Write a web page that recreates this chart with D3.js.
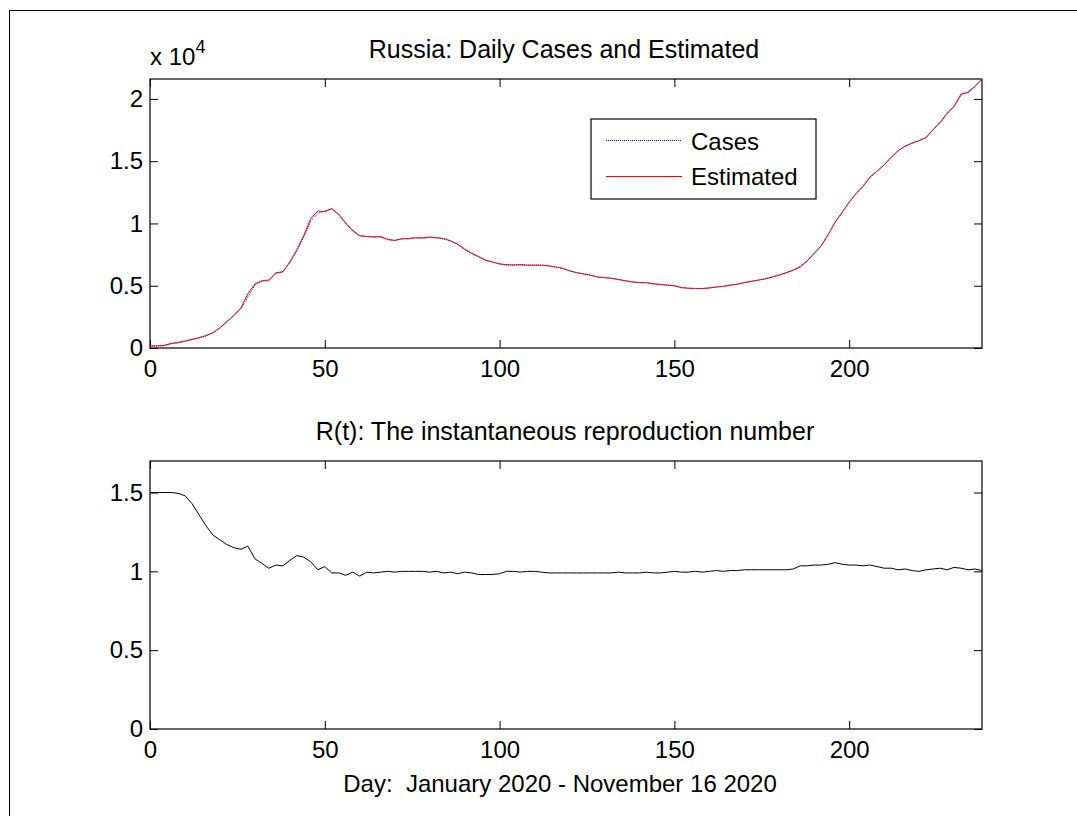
<!DOCTYPE html>
<html>
<head>
<meta charset="utf-8">
<script src="https://cdn.jsdelivr.net/npm/d3@7"></script>
<style>
    body { margin: 0; background: #fff; }
    text { font-family: Arial, "Liberation Sans", Helvetica, sans-serif; fill: #000; }
</style>
</head>
<body>
<div id="chart"></div>
<script>
// Day index (every 2nd day)
const days = [
    0, 2, 4, 6, 8, 10, 12, 14, 16, 18,
    20, 22, 24, 26, 28, 30, 32, 34, 36, 38,
    40, 42, 44, 46, 48, 50, 52, 54, 56, 58,
    60, 62, 64, 66, 68, 70, 72, 74, 76, 78,
    80, 82, 84, 86, 88, 90, 92, 94, 96, 98,
    100, 102, 104, 106, 108, 110, 112, 114, 116, 118,
    120, 122, 124, 126, 128, 130, 132, 134, 136, 138,
    140, 142, 144, 146, 148, 150, 152, 154, 156, 158,
    160, 162, 164, 166, 168, 170, 172, 174, 176, 178,
    180, 182, 184, 186, 188, 190, 192, 194, 196, 198,
    200, 202, 204, 206, 208, 210, 212, 214, 216, 218,
    220, 222, 224, 226, 228, 230, 232, 234, 236, 238
];

// Daily cases
const cases = [
    150, 160, 190, 330, 420, 520, 660, 800, 960, 1200,
    1600, 2100, 2600, 3150, 4100, 5050, 5350, 5500, 5950, 6150,
    6850, 7800, 8900, 10200, 10800, 11000, 11150, 10750, 10050, 9450,
    9050, 8950, 8950, 8900, 8750, 8600, 8800, 8750, 8850, 8800,
    8900, 8850, 8750, 8600, 8300, 7900, 7600, 7300, 7050, 6900,
    6750, 6650, 6700, 6650, 6650, 6650, 6650, 6600, 6500, 6400,
    6200, 6050, 5950, 5850, 5700, 5650, 5600, 5500, 5400, 5300,
    5250, 5250, 5150, 5100, 5050, 5000, 4850, 4800, 4780, 4780,
    4820, 4900, 4950, 5050, 5120, 5250, 5350, 5450, 5550, 5700,
    5850, 6050, 6250, 6550, 7000, 7600, 8200, 9100, 10100, 10900,
    11700, 12400, 13000, 13700, 14200, 14700, 15300, 15800, 16200, 16450,
    16650, 16900, 17500, 18100, 18800, 19400, 20300, 20600, 21000, 21600
];

// Estimated cases
const estimated = [
    160, 170, 210, 370, 450, 560, 700, 830, 1000, 1230,
    1620, 2120, 2620, 3200, 4350, 5150, 5400, 5400, 6050, 6100,
    6900, 7900, 9050, 10400, 11000, 10950, 11200, 10700, 10000, 9400,
    9000, 8950, 8900, 8950, 8700, 8650, 8750, 8800, 8850, 8850,
    8900, 8850, 8800, 8600, 8350, 7950, 7600, 7350, 7050, 6900,
    6750, 6700, 6650, 6700, 6650, 6650, 6650, 6600, 6500, 6400,
    6200, 6050, 5950, 5850, 5700, 5650, 5600, 5500, 5400, 5300,
    5250, 5250, 5150, 5100, 5050, 5000, 4850, 4800, 4780, 4780,
    4820, 4900, 4950, 5050, 5120, 5250, 5350, 5450, 5550, 5700,
    5850, 6050, 6250, 6500, 7000, 7600, 8200, 9100, 10100, 10900,
    11700, 12400, 13000, 13750, 14200, 14700, 15300, 15850, 16200, 16450,
    16650, 16900, 17550, 18100, 18850, 19400, 20400, 20500, 21000, 21600
];

// R(t) instantaneous reproduction number
const rt = [
    1.50, 1.50, 1.50, 1.50, 1.495, 1.48, 1.43, 1.36, 1.29, 1.23,
    1.20, 1.17, 1.15, 1.14, 1.16, 1.08, 1.05, 1.02, 1.04, 1.035,
    1.07, 1.10, 1.09, 1.06, 1.01, 1.03, 0.99, 0.99, 0.975, 0.995,
    0.97, 0.995, 0.99, 0.995, 1.00, 0.995, 1.00, 1.00, 1.00, 1.00,
    0.995, 1.00, 0.99, 0.995, 0.985, 0.995, 0.99, 0.98, 0.98, 0.98,
    0.985, 1.00, 1.00, 0.995, 1.00, 1.00, 0.995, 0.99, 0.99, 0.99,
    0.99, 0.99, 0.99, 0.99, 0.99, 0.99, 0.99, 0.995, 0.99, 0.99,
    0.99, 0.995, 0.99, 0.99, 0.995, 1.00, 0.995, 0.995, 1.00, 0.995,
    1.00, 1.005, 1.00, 1.005, 1.005, 1.01, 1.01, 1.01, 1.01, 1.01,
    1.01, 1.01, 1.015, 1.035, 1.035, 1.04, 1.04, 1.045, 1.055, 1.045,
    1.04, 1.04, 1.035, 1.04, 1.03, 1.02, 1.02, 1.01, 1.015, 1.005,
    1.00, 1.01, 1.015, 1.02, 1.01, 1.025, 1.02, 1.01, 1.015, 1.005
];

const xTicks = [0, 50, 100, 150, 200];
const casesTicks = [0, 5000, 10000, 15000, 20000];
const rtTicks = [0, 0.5, 1, 1.5];

const width = 1077;
const height = 816;
const plotLeft = 150;
const plotRight = 982;
const tickLen = 8;

const svg = d3.select("#chart")
    .append("svg")
    .attr("width", width)
    .attr("height", height);

svg.append("rect")
    .attr("width", width)
    .attr("height", height)
    .attr("fill", "#fff");

// Outer figure frame
svg.append("rect")
    .attr("x", 9.5)
    .attr("y", 10.5)
    .attr("width", width + 20)
    .attr("height", height + 20)
    .attr("fill", "none")
    .attr("stroke", "#000")
    .attr("stroke-width", 1);

const x = d3.scaleLinear().domain([0, 238]).range([plotLeft, plotRight]);

// Draws a MATLAB-like boxed axes, returns y scale
function drawAxes(top, bottom, yDomain, yTickVals, yFormat) {
    const y = d3.scaleLinear().domain(yDomain).range([bottom, top]);
    const g = svg.append("g");

    const bottomAxis = g.append("g")
        .attr("transform", `translate(0,${bottom})`)
        .call(d3.axisBottom(x).tickValues(xTicks).tickSizeInner(-tickLen).tickSizeOuter(0).tickPadding(12));
    const topAxis = g.append("g")
        .attr("transform", `translate(0,${top})`)
        .call(d3.axisTop(x).tickValues(xTicks).tickSizeInner(-tickLen).tickSizeOuter(0).tickFormat(""));
    const leftAxis = g.append("g")
        .attr("transform", `translate(${plotLeft},0)`)
        .call(d3.axisLeft(y).tickValues(yTickVals).tickSizeInner(-tickLen).tickSizeOuter(0).tickPadding(7).tickFormat(yFormat));
    const rightAxis = g.append("g")
        .attr("transform", `translate(${plotRight},0)`)
        .call(d3.axisRight(y).tickValues(yTickVals).tickSizeInner(-tickLen).tickSizeOuter(0).tickFormat(""));

    [bottomAxis, topAxis, leftAxis, rightAxis].forEach(a => {
        a.select(".domain").remove();
        a.selectAll("line").attr("stroke", "#000");
        a.selectAll("text")
            .style("font-size", "24px")
            .attr("fill", "#000")
            .style("font-family", "Arial, 'Liberation Sans', sans-serif");
    });

    g.append("rect")
        .attr("x", plotLeft)
        .attr("y", top)
        .attr("width", plotRight - plotLeft)
        .attr("height", bottom - top)
        .attr("fill", "none")
        .attr("stroke", "#000")
        .attr("stroke-width", 1.2);

    return y;
}

// ---- Top panel: daily cases ----
const yCases = drawAxes(79, 348, [0, 21600], casesTicks, d => d / 1e4);

const casesLine = d3.line()
    .x((d, i) => x(days[i]))
    .y(d => yCases(d));

svg.append("path")
    .datum(cases)
    .attr("d", casesLine)
    .attr("fill", "none")
    .attr("stroke", "#0000ff")
    .attr("stroke-width", 1)
    .attr("stroke-dasharray", "1,1");

svg.append("path")
    .datum(estimated)
    .attr("d", casesLine)
    .attr("fill", "none")
    .attr("stroke", "#ff0000")
    .attr("stroke-width", 1);

svg.append("text")
    .attr("x", 564)
    .attr("y", 58)
    .attr("text-anchor", "middle")
    .style("font-size", "25px")
    .text("Russia: Daily Cases and Estimated");

// Exponent label
const expo = svg.append("text")
    .attr("x", 150)
    .attr("y", 65)
    .style("font-size", "24px");
expo.append("tspan").text("x 10");
expo.append("tspan")
    .attr("dy", -12)
    .style("font-size", "18px")
    .text("4");

// Legend
const legend = svg.append("g");
legend.append("rect")
    .attr("x", 591)
    .attr("y", 119)
    .attr("width", 225)
    .attr("height", 80)
    .attr("fill", "#fff")
    .attr("stroke", "#000")
    .attr("stroke-width", 1.2);

legend.append("line")
    .attr("x1", 606).attr("x2", 682)
    .attr("y1", 140.5).attr("y2", 140.5)
    .attr("stroke", "#0000ff")
    .attr("stroke-dasharray", "1,1");
legend.append("text")
    .attr("x", 691)
    .attr("y", 150)
    .style("font-size", "24px")
    .text("Cases");

legend.append("line")
    .attr("x1", 606).attr("x2", 682)
    .attr("y1", 176.5).attr("y2", 176.5)
    .attr("stroke", "#ff0000");
legend.append("text")
    .attr("x", 691)
    .attr("y", 185)
    .style("font-size", "24px")
    .text("Estimated");

// ---- Bottom panel: R(t) ----
const yRt = drawAxes(461, 729, [0, 1.7], rtTicks, d => d);

const rtLine = d3.line()
    .x((d, i) => x(days[i]))
    .y(d => yRt(d));

svg.append("path")
    .datum(rt)
    .attr("d", rtLine)
    .attr("fill", "none")
    .attr("stroke", "#000")
    .attr("stroke-width", 1);

svg.append("text")
    .attr("x", 565)
    .attr("y", 440)
    .attr("text-anchor", "middle")
    .style("font-size", "25px")
    .text("R(t): The instantaneous reproduction number");

svg.append("text")
    .attr("x", 560)
    .attr("y", 792)
    .attr("text-anchor", "middle")
    .style("font-size", "24px")
    .style("white-space", "pre")
    .text("Day:  January 2020 - November 16 2020");
</script>
</body>
</html>
